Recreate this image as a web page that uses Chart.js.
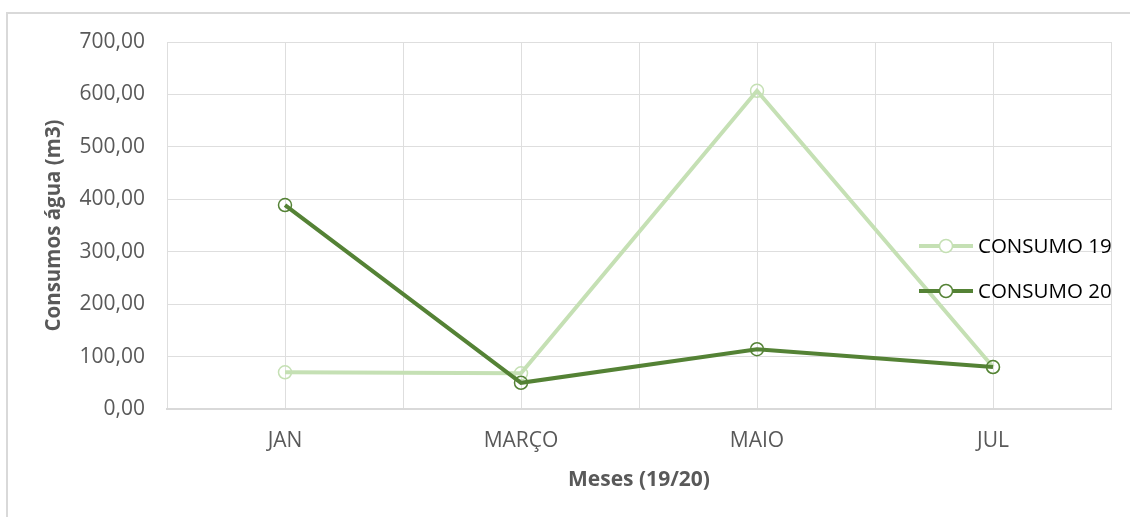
<!DOCTYPE html>
<html>
<head>
<meta charset="utf-8">
<script src="https://cdn.jsdelivr.net/npm/chart.js@4.4.1/dist/chart.umd.min.js"></script>
<style>
  html, body { margin: 0; padding: 0; background: #fff; }
  #frame { position: absolute; left: 6px; top: 12px; width: 1130px; height: 520px;
           border-left: 2px solid #d9d9d9; border-top: 2px solid #d9d9d9; }
  #wrap { position: absolute; left: 0; top: 0; width: 1130px; height: 517px; }
</style>
</head>
<body>
<div id="frame"></div>
<div id="wrap"><canvas id="grafico"></canvas></div>
<script>
var meses = ['JAN', 'MARÇO', 'MAIO', 'JUL']
var consumo19 = [70, 68, 607, 80]
var consumo20 = [389, 50, 114, 80]
var nomes = ['CONSUMO 19', 'CONSUMO 20']

var corClara = '#c5e0b4'
var corEscura = '#548235'

// legenda desenhada dentro da area do grafico, como no Excel
var legendaInterna = {
  id: 'legendaInterna',
  afterDraw: function(chart) {
    var c = chart.ctx
    var area = chart.chartArea
    var x0 = area.right - 192
    var ys = [246, 291]
    chart.data.datasets.forEach(function(ds, i) {
      var y = ys[i]
      c.save()
      c.strokeStyle = ds.borderColor
      c.lineWidth = ds.borderWidth
      c.beginPath()
      c.moveTo(x0, y)
      c.lineTo(x0 + 54, y)
      c.stroke()
      c.fillStyle = '#fff'
      c.lineWidth = 1.5
      c.beginPath()
      c.arc(x0 + 27, y, 6.5, 0, Math.PI * 2)
      c.fill()
      c.stroke()
      c.fillStyle = '#000'
      c.font = '20.5px "Open Sans"'
      c.textBaseline = 'middle'
      c.fillText(ds.label, x0 + 59, y + 1)
      c.restore()
    })
  }
}

var ctx = document.getElementById('grafico')

new Chart(ctx, {
  type: 'line',
  data: {
    labels: meses,
    datasets: [{
      label: nomes[0],
      data: consumo19,
      borderColor: corClara,
      backgroundColor: 'transparent',
      borderWidth: 4,
      pointRadius: 6.5,
      pointBorderWidth: 1.5,
      pointBorderColor: corClara,
      pointBackgroundColor: 'transparent',
      order: 1
    }, {
      label: nomes[1],
      data: consumo20,
      borderColor: corEscura,
      backgroundColor: 'transparent',
      borderWidth: 4,
      pointRadius: 6.5,
      pointBorderWidth: 1.5,
      pointBorderColor: corEscura,
      pointBackgroundColor: 'transparent',
      order: 0
    }]
  },
  options: {
    responsive: true,
    maintainAspectRatio: false,
    animation: false,
    layout: { padding: { left: 0, right: 19, top: 42, bottom: 0 } },
    plugins: {
      legend: { display: false },
      tooltip: { enabled: false }
    },
    scales: {
      x: {
        type: 'category',
        offset: true,
        afterFit: function(s) { s.height = 108 },
        grid: { color: '#dedede', offset: false, drawTicks: false },
        border: { display: true, color: '#d9d9d9', width: 2 },
        ticks: { color: '#595959', padding: 19, font: { family: 'Open Sans', size: 21 } },
        title: {
          display: true, text: 'Meses (19/20)', color: '#595959',
          font: { family: 'Open Sans', size: 21, weight: 'bold' },
          padding: { top: 0, bottom: 24 }
        }
      },
      x2: {
        type: 'category',
        position: 'top',
        labels: meses,
        offset: true,
        afterFit: function(s) { s.height = 0 },
        grid: { color: '#dedede', offset: true, drawTicks: false },
        border: { display: false },
        ticks: { display: false }
      },
      y: {
        min: 0,
        max: 700,
        afterFit: function(s) { s.width = 167 },
        grid: { color: '#dedede', drawTicks: false },
        border: { display: false },
        ticks: {
          stepSize: 100,
          color: '#595959',
          padding: 22,
          font: { family: 'Open Sans', size: 21 },
          callback: function(v) { return v.toFixed(2).replace('.', ',') }
        },
        title: {
          display: true, text: 'Consumos água (m3)', color: '#595959',
          font: { family: 'Open Sans', size: 20.5, weight: 'bold' },
          padding: { top: 42, bottom: 0 }
        }
      }
    }
  },
  plugins: [legendaInterna]
})
</script>
</body>
</html>
